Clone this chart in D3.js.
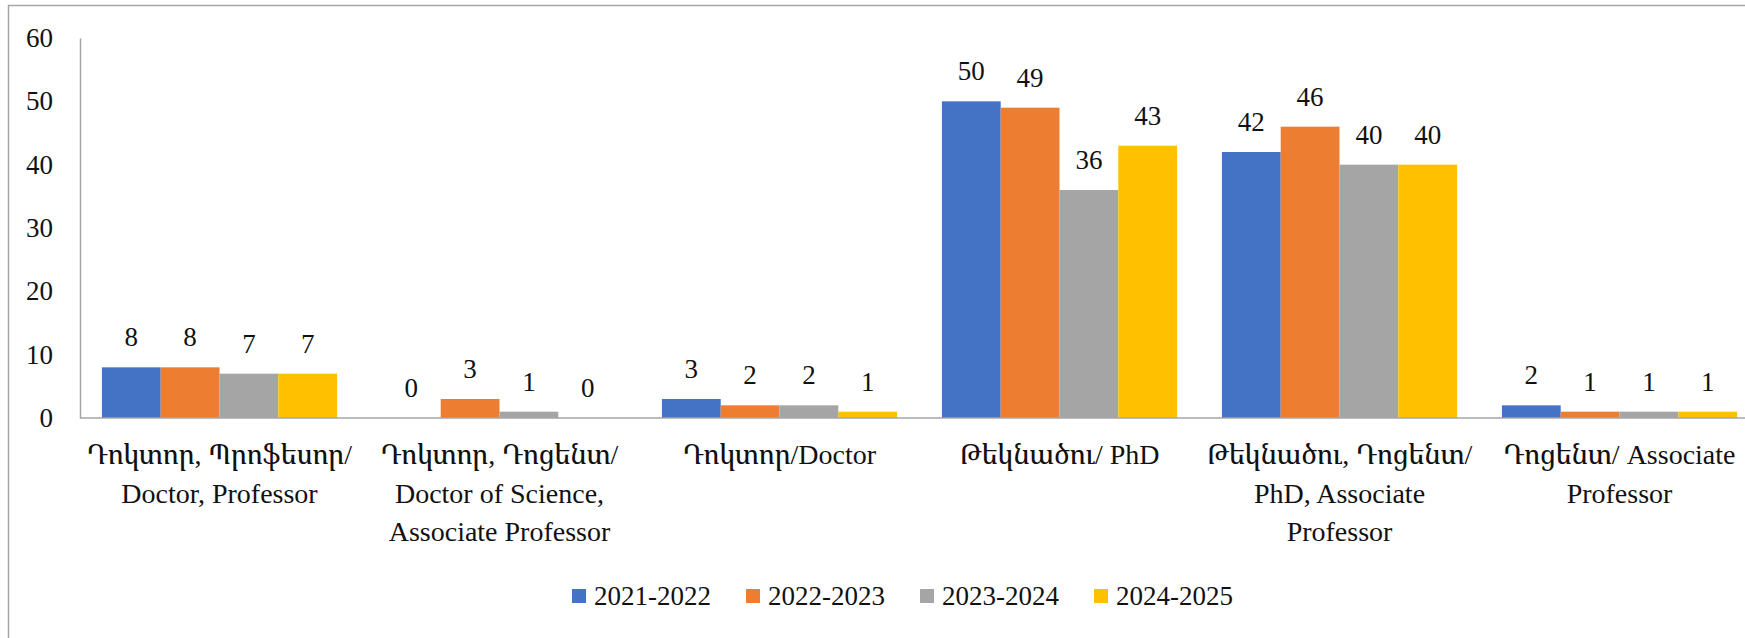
<!DOCTYPE html>
<html>
<head>
<meta charset="utf-8">
<script src="https://cdn.jsdelivr.net/npm/d3@7"></script>
<style>
  @font-face {
    font-family: "ChartSerif";
    src: local("Liberation Serif"), local("LiberationSerif"), local("Tinos");
  }
  @font-face {
    font-family: "ChartArm";
    src: local("Noto Serif Armenian"), local("NotoSerifArmenian-Regular");
  }
  html, body { margin: 0; padding: 0; background: #fff; }
  svg { display: block; }
  svg text { font-family: "Liberation Serif", "ChartSerif", "Noto Serif Armenian", "ChartArm", serif; }
</style>
</head>
<body>
<svg id="chart" width="1745" height="638"></svg>
<script>
// Data
const categories = [
  ["Դոկտոր, Պրոֆեսոր/", "Doctor, Professor"],
  ["Դոկտոր, Դոցենտ/", "Doctor of Science,", "Associate Professor"],
  ["Դոկտոր/Doctor"],
  ["Թեկնածու/ PhD"],
  ["Թեկնածու, Դոցենտ/", "PhD, Associate", "Professor"],
  ["Դոցենտ/ Associate", "Professor"],
];
const seriesNames = ["2021-2022", "2022-2023", "2023-2024", "2024-2025"];
const values2021 = [8, 0, 3, 50, 42, 2];
const values2022 = [8, 3, 2, 49, 46, 1];
const values2023 = [7, 1, 2, 36, 40, 1];
const values2024 = [7, 0, 1, 43, 40, 1];
const yTicks = [0, 10, 20, 30, 40, 50, 60];
const colors = ["#4472C4", "#ED7D31", "#A5A5A5", "#FFC000"];

class GroupedBars {
  constructor({ el }) {
    this.el = el;
    this.initVis();
  }

  initVis() {
    const vis = this;
    vis.width = 1745;
    vis.height = 638;
    vis.margin = { top: 38, bottom: 220, left: 80 };
    vis.fontSize = 27;

    vis.svg = d3.select(vis.el);

    // outer frame (runs off the right/bottom edges like the source)
    vis.svg
      .append("rect")
      .attr("x", 8.5)
      .attr("y", 5.5)
      .attr("width", 1800)
      .attr("height", 700)
      .attr("fill", "none")
      .attr("stroke", "#a6a6a6")
      .attr("stroke-width", 1.5);

    vis.series = [values2021, values2022, values2023, values2024];
    vis.keys = categories.map((d, i) => i);

    vis.x0 = d3
      .scaleBand()
      .domain(vis.keys)
      .range([79.5, 1759.5])
      .paddingInner(0.16)
      .paddingOuter(0.08);
    vis.x1 = d3
      .scaleBand()
      .domain(seriesNames)
      .range([0, vis.x0.bandwidth()]);
    vis.y = d3
      .scaleLinear()
      .domain([0, 60])
      .range([vis.height - vis.margin.bottom, vis.margin.top]);

    vis.updateVis();
  }

  updateVis() {
    const vis = this;
    const y0 = vis.y(0);

    // y axis
    vis.svg
      .append("g")
      .attr("class", "axis axis--y")
      .attr("transform", `translate(${vis.margin.left},0)`)
      .call(
        d3.axisLeft(vis.y).tickValues(yTicks).tickSize(0).tickPadding(27)
      )
      .attr("font-family", null)
      .attr("font-size", null)
      .call((g) =>
        g.select(".domain").attr("stroke", "#a6a6a6").attr("stroke-width", 1.5)
      )
      .call((g) =>
        g
          .selectAll(".tick text")
          .attr("font-size", vis.fontSize)
          .attr("fill", "#111")
      );

    // bars
    const rows = vis.series.flatMap((vals, s) =>
      vals.map((v, c) => ({ cat: c, s, name: seriesNames[s], value: v }))
    );
    const gBars = vis.svg.append("g").attr("class", "bars");
    gBars
      .selectAll("rect")
      .data(rows)
      .join("rect")
      .attr("x", (d) => vis.x0(d.cat) + vis.x1(d.name))
      .attr("y", (d) => vis.y(d.value))
      .attr("width", vis.x1.bandwidth())
      .attr("height", (d) => y0 - vis.y(d.value))
      .attr("fill", (d) => colors[d.s]);

    // x baseline
    vis.svg
      .append("line")
      .attr("x1", vis.margin.left)
      .attr("x2", vis.width)
      .attr("y1", y0)
      .attr("y2", y0)
      .attr("stroke", "#a6a6a6")
      .attr("stroke-width", 1.5);

    // value labels
    gBars
      .selectAll("text")
      .data(rows)
      .join("text")
      .attr("x", (d) => vis.x0(d.cat) + vis.x1(d.name) + vis.x1.bandwidth() / 2)
      .attr("y", (d) => vis.y(d.value) - 21)
      .attr("text-anchor", "middle")
      .attr("font-size", vis.fontSize)
      .attr("fill", "#111")
      .text((d) => d.value);

    // category labels, one text per line
    const catG = vis.svg
      .append("g")
      .attr("class", "cat-labels")
      .selectAll("g")
      .data(categories)
      .join("g")
      .attr("transform", (d, i) =>
        `translate(${vis.x0(i) + vis.x0.bandwidth() / 2},${y0 + 46})`
      );
    catG
      .selectAll("text")
      .data((d) => d)
      .join("text")
      .attr("y", (d, i) => i * 38.5)
      .attr("text-anchor", "middle")
      .attr("font-size", 28)
      .attr("fill", "#111")
      .text((d) => d);

    // legend
    const legend = vis.svg
      .append("g")
      .attr("class", "legend")
      .attr("transform", "translate(572,596)");
    const item = legend
      .selectAll("g")
      .data(seriesNames)
      .join("g")
      .attr("transform", (d, i) => `translate(${i * 174},0)`);
    item
      .append("rect")
      .attr("y", -7)
      .attr("width", 14)
      .attr("height", 14)
      .attr("fill", (d, i) => colors[i]);
    item
      .append("text")
      .attr("x", 22)
      .attr("dy", "0.34em")
      .attr("font-size", vis.fontSize)
      .attr("fill", "#111")
      .text((d) => d);
  }
}

new GroupedBars({ el: "#chart" });
</script>
</body>
</html>
